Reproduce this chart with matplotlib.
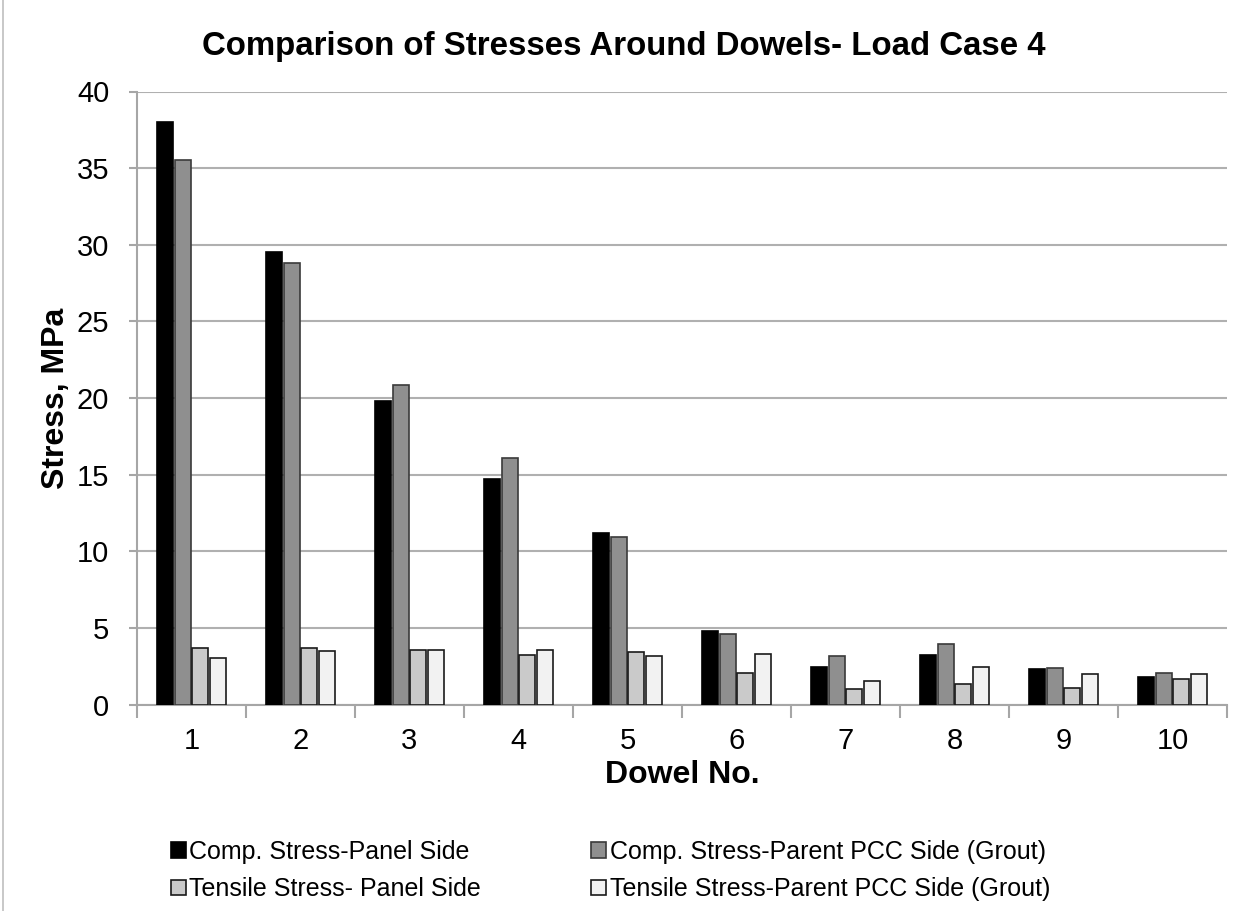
import matplotlib
matplotlib.use("Agg")
import matplotlib.pyplot as plt
import numpy as np
from matplotlib.lines import Line2D

dowels = ["1", "2", "3", "4", "5", "6", "7", "8", "9", "10"]
comp_panel = [38.0, 29.5, 19.8, 14.7, 11.2, 4.8, 2.45, 3.2, 2.3, 1.8]
comp_grout = [35.5, 28.8, 20.85, 16.1, 10.95, 4.6, 3.15, 3.95, 2.35, 2.05]
tens_panel = [3.67, 3.67, 3.58, 3.23, 3.4, 2.05, 1.0, 1.36, 1.1, 1.64]
tens_grout = [3.06, 3.5, 3.58, 3.58, 3.14, 3.32, 1.51, 2.43, 1.97, 1.97]

series_labels = [
    "Comp. Stress-Panel Side",
    "Comp. Stress-Parent PCC Side (Grout)",
    "Tensile Stress- Panel Side",
    "Tensile Stress-Parent PCC Side (Grout)",
]
series = [comp_panel, comp_grout, tens_panel, tens_grout]
fills = ["#000000", "#8f8f8f", "#cacaca", "#f2f2f2"]
edges = ["#000000", "#3a3a3a", "#1a1a1a", "#1a1a1a"]

plt.rcParams["font.family"] = ["Liberation Sans", "DejaVu Sans"]

fig = plt.figure(figsize=(12.47, 9.11), dpi=100)
ax = fig.add_axes([137 / 1247, 1 - 704.5 / 911, 1090 / 1247, (704.5 - 91.5) / 911])

x = np.arange(len(dowels))
pitch = 0.16
width = 0.145
for i, (vals, fc, ec) in enumerate(zip(series, fills, edges)):
    ax.bar(x + (i - 1.5) * pitch, vals, width, color=fc, edgecolor=ec,
           linewidth=1.2, zorder=3, label=series_labels[i])

ax.set_xlim(-0.5, len(dowels) - 0.5)
ax.set_ylim(0, 40)
ax.set_yticks(np.arange(0, 41, 5))
ax.set_xticks(x)
ax.set_xticklabels(dowels)
ax.set_xticks(np.arange(-0.5, len(dowels), 1), minor=True)

ax.grid(axis="y", color="#b0b0b0", linewidth=1.5, zorder=0)
for side in ["top", "right"]:
    ax.spines[side].set_visible(False)
for side in ["left", "bottom"]:
    ax.spines[side].set_color("#a6a6a6")
    ax.spines[side].set_linewidth(1.5)

ax.tick_params(axis="x", which="major", length=0, labelsize=21, pad=16)
ax.tick_params(axis="x", which="minor", length=9, width=1.5, color="#a6a6a6")
ax.tick_params(axis="y", length=6, width=1.5, color="#a6a6a6", labelsize=21, pad=14)

ax.set_xlabel("Dowel No.", fontsize=23, fontweight="bold", labelpad=4)
ax.set_ylabel("Stress, MPa", fontsize=23, fontweight="bold", labelpad=4)
fig.text(0.5, 1 - 46 / 911, "Comparison of Stresses Around Dowels- Load Case 4",
         fontsize=23.8, fontweight="bold", ha="center", va="center")

handles, labels = ax.get_legend_handles_labels()
order = [0, 2, 1, 3]
fig.legend([handles[k] for k in order], [labels[k] for k in order],
           loc="upper left", bbox_to_anchor=(148 / 1247, 1 - 817 / 911),
           ncol=2, frameon=False, fontsize=18, handlelength=0.6,
           handleheight=0.6, handletextpad=0.15, columnspacing=4.4,
           labelspacing=0.55)

fig.add_artist(Line2D([3 / 1247, 3 / 1247], [0, 1], color="#bfbfbf",
                      linewidth=1.2, transform=fig.transFigure))

fig.savefig("out.png", dpi=100)
